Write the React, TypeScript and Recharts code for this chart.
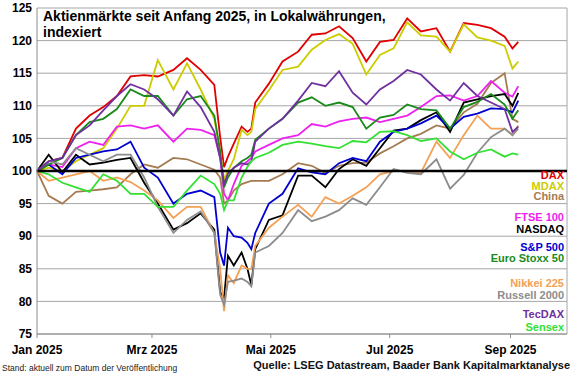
import { LineChart, Line, XAxis, YAxis, CartesianGrid, ReferenceLine } from 'recharts';

// days since 1 Jan 2025
const days = [0, 6, 13, 20, 27, 34, 41, 48, 55, 62, 70, 77, 84, 91, 94, 96, 98, 101, 105, 108, 110, 112, 119, 126, 134, 141, 148, 155, 162, 169, 176, 183, 190, 197, 205, 212, 219, 226, 233, 240, 244, 247];

const dax = [100, 101.5, 102, 106.5, 108.5, 109.8, 111.5, 114.5, 114.7, 114.5, 115.5, 117.3, 115.5, 113.2, 105.2, 100.6, 102.2, 104.2, 106.8, 106, 106.5, 110.5, 113.4, 116.8, 118.3, 120.9, 121.1, 122.2, 120.4, 116.8, 119.8, 120.1, 123.4, 121.4, 121.9, 118.3, 122.7, 122.4, 121.9, 120.6, 118.8, 119.8];
const mdax = [100, 100.5, 100, 101.5, 102.5, 103.5, 106.5, 110, 110, 117, 112.5, 116.5, 112.5, 108, 103, 98.7, 100, 101.8, 106.3, 105.5, 106, 109.5, 112.4, 115.5, 116, 118.6, 120.1, 121, 119.5, 114.8, 117.8, 118.8, 122.8, 120.8, 120.6, 118.3, 122.5, 120.5, 120, 119.2, 115.7, 116.8];
const china = [100, 96.2, 95, 96.8, 97, 97.2, 97.5, 99.5, 101, 100.5, 102, 101.8, 101, 100.2, 99, 95, 95.5, 97, 98, 98.3, 98.5, 98.5, 98.5, 99.5, 101.2, 100.8, 99.7, 100.8, 101.2, 101.3, 102.7, 103.8, 105, 105.7, 107, 106.5, 109, 110.3, 113.5, 115, 108, 107.5];
const ftse = [100, 101, 100.6, 103.5, 104.5, 104, 106.8, 107, 106.5, 107, 104.5, 106.5, 106.3, 105.5, 102, 96.5, 95.5, 98, 100.8, 101.5, 102, 103, 104, 105, 105.5, 107.2, 106.8, 107.6, 108, 108.2, 107.5, 108, 108.5, 109.8, 111.5, 111.6, 110.8, 111.5, 113.8, 112, 111.4, 113];
const nasdaq = [100, 102.5, 99.8, 102.5, 101, 101.3, 101.7, 102, 98.2, 95, 91, 92, 93.5, 91, 81.5, 80.5, 87, 85.5, 87.5, 85, 82.5, 88, 92.5, 93.2, 99.3, 99.3, 97.5, 100.3, 101.8, 100.8, 103.5, 106.2, 106.5, 107.8, 109, 106, 110.5, 111, 111.5, 111.8, 110, 112];
const sp500 = [100, 101, 99.5, 102, 102.5, 103, 103.3, 104.5, 100.5, 99, 95, 96.5, 97, 96, 87.5, 85.5, 91.3, 90, 89.8, 89, 88, 90.5, 95, 96.5, 100.4, 99.8, 99.5, 101.2, 102, 101.5, 104.5, 106, 106.5, 107.3, 108.5, 106.5, 108.3, 108.8, 109.6, 109.5, 109, 110.8];
const stoxx = [100, 101, 102, 105.5, 107.5, 108, 109.5, 112.5, 111.5, 111.5, 108.5, 111, 111.5, 108.5, 103, 97.5, 99, 100.5, 101.5, 102, 102.5, 104.8, 106.5, 108, 110.5, 111.3, 110, 110.5, 109.8, 106.5, 108.2, 108.6, 110.2, 109.5, 109.3, 106.5, 109.8, 110.6, 111.8, 110.2, 108, 109.3];
const nikkei = [100, 98.5, 99, 99.5, 100, 98.5, 99, 98.3, 97, 95.5, 92.8, 94.5, 94.5, 90.5, 85, 78.5, 84, 82.8, 85.5, 85, 85, 88.5, 91.3, 93, 94.8, 93, 96, 95, 96.2, 97.5, 99.5, 100, 100, 99.7, 104.5, 102, 105.5, 108.5, 106.5, 106.5, 105.5, 107];
const russell = [100, 101.5, 101, 103.5, 102.5, 101.5, 102.5, 102.5, 99, 94.5, 90.5, 92.5, 93.8, 90.5, 81, 79.5, 83, 83.2, 83.5, 83, 82.3, 87.5, 88.5, 90.5, 94, 92.3, 93, 94, 95.8, 94.8, 97.5, 100.3, 99.7, 99.5, 101.8, 97.3, 99.4, 102.8, 105.2, 106.5, 105.5, 106.5];
const tecdax = [100, 101.5, 102, 105.5, 107, 109.3, 111.5, 113.3, 112.5, 111, 108.5, 112.2, 109.8, 106, 102, 98, 99.6, 100.5, 101.2, 101, 101.5, 104.5, 106.5, 108, 110.8, 113.5, 113, 115.3, 112, 110.2, 112.5, 113.8, 115.5, 114.8, 112.5, 110.8, 113.5, 111.5, 110.5, 109.5, 106, 106.8];
const sensex = [100, 99.5, 98.2, 97.5, 96.8, 99.5, 98.5, 96.5, 96.5, 94.5, 94.5, 97, 99.3, 98, 96.5, 94, 95.5, 95.5, 99, 100.6, 101.5, 102, 102.8, 104, 104.5, 104.2, 103.8, 103.5, 104.6, 104.4, 106, 106.1, 105.5, 104.6, 105, 103, 101.8, 102.8, 103.3, 102.2, 102.7, 102.5];

const monthTicks = [0, 59, 120, 181, 243];
const monthLabels = ['Jan 2025', 'Mrz 2025', 'Mai 2025', 'Jul 2025', 'Sep 2025'];
const yTicks = [75, 80, 85, 90, 95, 100, 105, 110, 115, 120, 125];

const series = [
  { key: 'dax', name: 'DAX', color: '#e00000', values: dax },
  { key: 'mdax', name: 'MDAX', color: '#cccc00', values: mdax },
  { key: 'china', name: 'China', color: '#a57b52', values: china },
  { key: 'ftse', name: 'FTSE 100', color: '#ee22ee', values: ftse },
  { key: 'nasdaq', name: 'NASDAQ', color: '#000000', values: nasdaq },
  { key: 'sp500', name: 'S&P 500', color: '#0000d0', values: sp500 },
  { key: 'stoxx', name: 'Euro Stoxx 50', color: '#1a8a1a', values: stoxx },
  { key: 'nikkei', name: 'Nikkei 225', color: '#f4a055', values: nikkei },
  { key: 'russell', name: 'Russell 2000', color: '#8c8c8c', values: russell },
  { key: 'tecdax', name: 'TecDAX', color: '#7030a0', values: tecdax },
  { key: 'sensex', name: 'Sensex', color: '#33e033', values: sensex },
];

// label centre heights on the right side
const legendY = [175, 186, 196.5, 217, 229, 247, 258, 283, 295, 314, 327];

const data = days.map((d, i) => {
  const row: Record<string, number> = { day: d };
  series.forEach(s => { row[s.key] = s.values[i]; });
  return row;
});

const font = "'Liberation Sans', Arial, sans-serif";

export default function App() {
  return (
    <div style={{ position: 'absolute', left: 0, top: 0, width: 580, height: 375, background: '#fff', fontFamily: font }}>
      <LineChart width={580} height={375} data={data} margin={{ top: 8, right: 13, left: 0, bottom: 0 }}>
        <CartesianGrid vertical={false} stroke="#a6a6a6" />
        <XAxis
          dataKey="day"
          type="number"
          domain={[0, 272]}
          ticks={monthTicks}
          interval={0}
          tickFormatter={(v: number) => monthLabels[monthTicks.indexOf(v)]}
          height={41}
          tickSize={4}
          tickMargin={7}
          stroke="#8c8c8c"
          tick={{ fontSize: 12, fontWeight: 'bold', fill: '#000', fontFamily: font }}
        />
        <YAxis
          type="number"
          domain={[75, 125]}
          ticks={yTicks}
          width={37}
          tickLine={false}
          tickSize={3}
          tickMargin={2}
          stroke="#8c8c8c"
          tick={{ fontSize: 12, fontWeight: 'bold', fill: '#000', fontFamily: font }}
        />
        <ReferenceLine x={272} stroke="#a6a6a6" />
        {series.map(s => (
          <Line key={s.key} type="linear" dataKey={s.key} name={s.name} stroke={s.color} strokeWidth={1.8} dot={false} isAnimationActive={false} />
        ))}
        <ReferenceLine y={100} stroke="#000" strokeWidth={2.5} />
      </LineChart>

      <div style={{ position: 'absolute', left: 43, top: 8, fontSize: 14, lineHeight: '16px', fontWeight: 'bold', color: '#000' }}>
        Aktienmärkte seit Anfang 2025, in Lokalwährungen,<br />indexiert
      </div>

      {series.map((s, i) => (
        <div key={s.key} style={{ position: 'absolute', right: 16, top: legendY[i] - 5.5, fontSize: 11, lineHeight: '11px', fontWeight: 'bold', color: s.color, whiteSpace: 'nowrap' }}>
          {s.name}
        </div>
      ))}

      <div style={{ position: 'absolute', left: 2, top: 364, fontSize: 8.5, lineHeight: '9px', color: '#222', whiteSpace: 'nowrap' }}>
        Stand: aktuell zum Datum der Veröffentlichung
      </div>
      <div style={{ position: 'absolute', right: 10, top: 360, fontSize: 11, lineHeight: '11px', fontWeight: 'bold', color: '#111', whiteSpace: 'nowrap' }}>
        Quelle: LSEG Datastream, Baader Bank Kapitalmarktanalyse
      </div>
    </div>
  );
}
